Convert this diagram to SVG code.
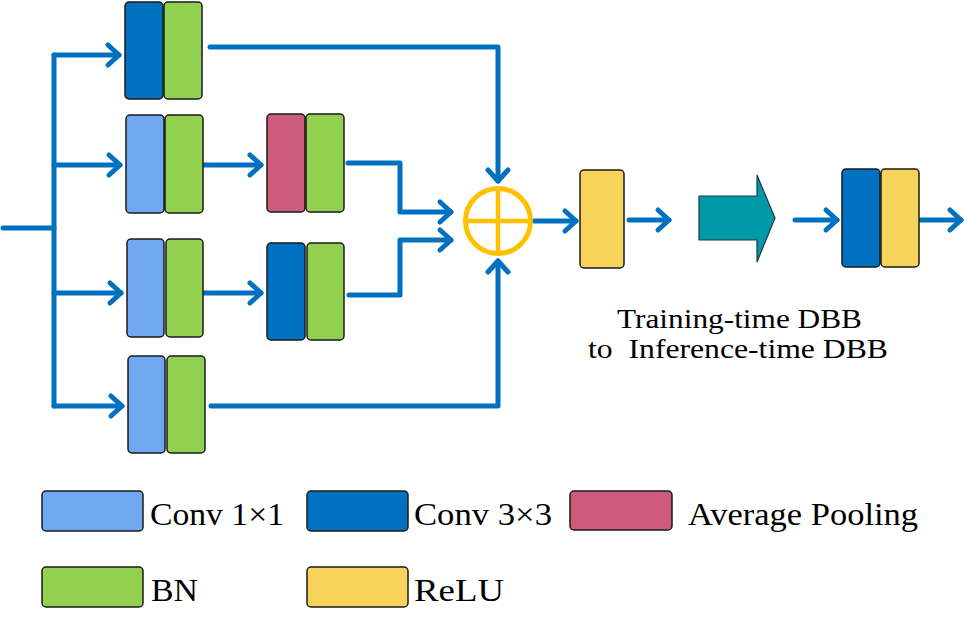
<svg xmlns="http://www.w3.org/2000/svg" width="964" height="618" viewBox="0 0 964 618">
<style>
.blk{stroke:#1a1a1a;stroke-width:1.5}
.c1{fill:#6FA8F0}
.c3{fill:#0070C0}
.bn{fill:#92D050}
.ap{fill:#CD5C7A}
.re{fill:#F8D35C}
.ln{fill:none;stroke:#0070C0;stroke-width:5;stroke-linejoin:round;stroke-linecap:round}
.ar{marker-end:url(#chev)}
</style>
<defs>
<marker id="chev" markerUnits="userSpaceOnUse" viewBox="-20 -20 40 40" refX="0" refY="0" markerWidth="40" markerHeight="40" orient="auto" overflow="visible">
<path d="M-11,-10 L0,0 L-11,10" fill="none" stroke="#0070C0" stroke-width="5" stroke-linecap="round" stroke-linejoin="round"/>
</marker>
</defs>
<rect width="964" height="618" fill="#fff"/>
<g id="connectors">
<path class="ln" d="M3,228 H54"/>
<path class="ln" d="M54,55 V406"/>
<path class="ln ar" d="M54,55 H119"/>
<path class="ln ar" d="M54,165 H120"/>
<path class="ln ar" d="M54,293 H121"/>
<path class="ln ar" d="M54,406 H122"/>
<path class="ln ar" d="M210,47 H498 V181"/>
<path class="ln ar" d="M204,165 H261"/>
<path class="ln ar" d="M348,163 H400 V212 H451"/>
<path class="ln ar" d="M204,293 H261"/>
<path class="ln ar" d="M349,295 H400 V240 H451"/>
<path class="ln ar" d="M211,406 H498 V261"/>
<path class="ln ar" d="M534,221 H576"/>
<path class="ln ar" d="M629,220 H669"/>
<path class="ln ar" d="M795,220 H837"/>
<path class="ln ar" d="M921,220 H961"/>
</g>
<g id="row1">
<rect class="blk c3" x="125" y="2" width="38" height="97" rx="4"/>
<rect class="blk bn" x="164" y="2" width="38" height="97" rx="4"/>
</g>
<g id="row2a">
<rect class="blk c1" x="126" y="115" width="38" height="98" rx="4"/>
<rect class="blk bn" x="165" y="115" width="38" height="98" rx="4"/>
</g>
<g id="row2b">
<rect class="blk ap" x="267" y="114" width="38" height="98" rx="4"/>
<rect class="blk bn" x="306" y="114" width="38" height="98" rx="4"/>
</g>
<g id="row3a">
<rect class="blk c1" x="127" y="239" width="37" height="98" rx="4"/>
<rect class="blk bn" x="166" y="239" width="37" height="98" rx="4"/>
</g>
<g id="row3b">
<rect class="blk c3" x="267" y="243" width="38" height="97" rx="4"/>
<rect class="blk bn" x="307" y="243" width="37" height="97" rx="4"/>
</g>
<g id="row4">
<rect class="blk c1" x="128" y="356" width="37" height="97" rx="4"/>
<rect class="blk bn" x="167" y="356" width="38" height="97" rx="4"/>
</g>
<g id="add">
<circle cx="498" cy="221" r="32.5" fill="none" stroke="#FFC000" stroke-width="5"/>
<path d="M466,221 H530 M498,189 V253" stroke="#FFC000" stroke-width="4.5"/>
</g>
<g id="relu">
<rect class="blk re" x="580" y="170" width="44" height="98" rx="4"/>
</g>
<g id="convert">
<path d="M699,196 H757 V175 L775,218 L757,262 V240 H699 Z" fill="#0099A8" stroke="#1a3a40" stroke-width="1.2"/>
</g>
<g id="inference">
<rect class="blk c3" x="842" y="169" width="38" height="98" rx="4"/>
<rect class="blk re" x="881" y="169" width="38" height="98" rx="4"/>
</g>
<g id="caption">
<text font-family="Liberation Serif" font-size="28" x="617" y="328" textLength="245" lengthAdjust="spacingAndGlyphs">Training-time DBB</text>
<text font-family="Liberation Serif" font-size="28" x="588" y="358" textLength="300" lengthAdjust="spacingAndGlyphs" xml:space="preserve">to  Inference-time DBB</text>
</g>
<g id="legend">
<rect class="blk c1" x="42" y="491" width="101" height="40" rx="4"/>
<text font-family="Liberation Serif" font-size="31" x="150" y="525" textLength="134" lengthAdjust="spacingAndGlyphs">Conv 1×1</text>
<rect class="blk c3" x="307" y="491" width="101" height="40" rx="4"/>
<text font-family="Liberation Serif" font-size="31" x="414" y="525" textLength="138" lengthAdjust="spacingAndGlyphs">Conv 3×3</text>
<rect class="blk ap" x="570" y="491" width="102" height="39" rx="4"/>
<text font-family="Liberation Serif" font-size="31" x="688" y="525" textLength="230" lengthAdjust="spacingAndGlyphs">Average Pooling</text>
<rect class="blk bn" x="42" y="567" width="101" height="40" rx="4"/>
<text font-family="Liberation Serif" font-size="31" x="151" y="601" textLength="47" lengthAdjust="spacingAndGlyphs">BN</text>
<rect class="blk re" x="307" y="567" width="101" height="40" rx="4"/>
<text font-family="Liberation Serif" font-size="31" x="414" y="601" textLength="90" lengthAdjust="spacingAndGlyphs">ReLU</text>
</g>
</svg>
